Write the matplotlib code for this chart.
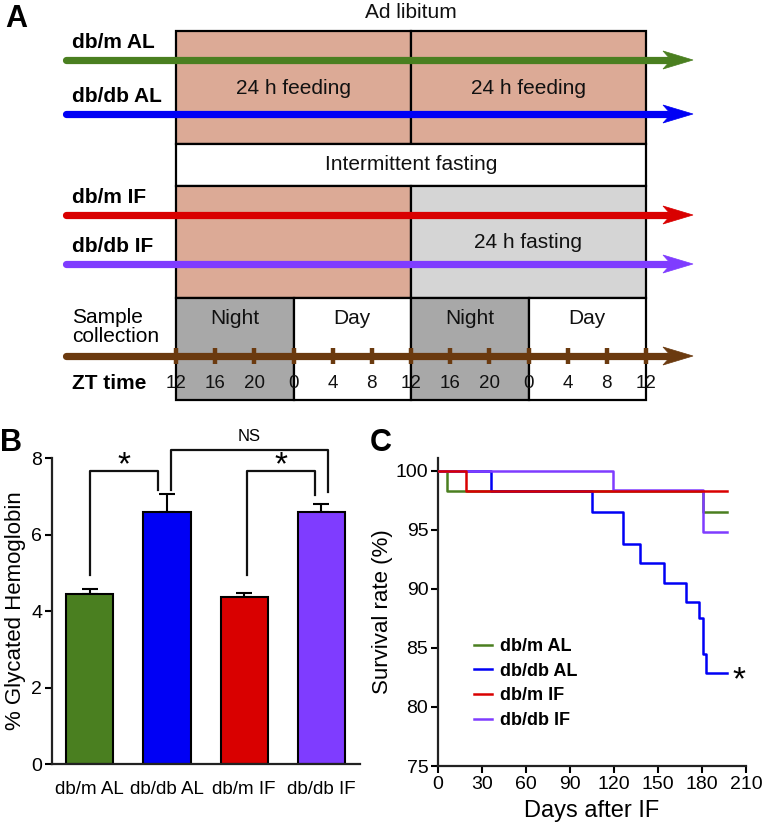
import matplotlib
matplotlib.use('Agg')
import matplotlib.pyplot as plt
from matplotlib.patches import Rectangle, Polygon

plt.rcParams['font.family'] = ['Liberation Sans', 'DejaVu Sans']

# ---- data ----
groups = ['db/m AL', 'db/db AL', 'db/m IF', 'db/db IF']
group_colors = ['#4a7f20', '#0000f5', '#d90000', '#7f3cff']

# panel A: ZT clock, every 4 h over two days
zt_labels = [12, 16, 20, 0, 4, 8, 12, 16, 20, 0, 4, 8, 12]

# panel B: glycated hemoglobin (%)
hba1c_mean = [4.44, 6.59, 4.37, 6.59]
hba1c_sem = [0.13, 0.47, 0.10, 0.21]

# panel C: survival curves (step points)
days_dm_al = [0, 6, 181, 197]
surv_dm_al = [100, 98.3, 96.5, 96.5]
days_db_al = [0, 36, 105, 126, 137.5, 154, 169, 178, 180.5, 183, 197]
surv_db_al = [100, 98.3, 96.5, 93.8, 92.2, 90.5, 88.9, 87.5, 84.5, 82.9, 82.9]
days_dm_if = [0, 19, 197]
surv_dm_if = [100, 98.3, 98.3]
days_db_if = [0, 119, 181, 197]
surv_db_if = [100, 98.4, 94.8, 94.8]

W, H = 762, 830
fig = plt.figure(figsize=(W / 100, H / 100), dpi=100)

# ---- panel A: schematic, drawn in pixel coordinates ----
axA = fig.add_axes([0, 0, 1, 1])
axA.set_xlim(0, W)
axA.set_ylim(H, 0)
axA.axis('off')

x0, x1 = 176, 646
def hx(h):
    # hours since first ZT12 -> pixel x
    return x0 + h * (x1 - x0) / 48.0

salmon = '#dcaa96'
light_gray = '#d5d5d5'
dark_gray = '#a8a8a8'
brown = '#6b3a0f'
bw = 1.6

def box(xa, xb, ya, yb, fc):
    axA.add_patch(Rectangle((xa, ya), xb - xa, yb - ya, facecolor=fc,
                            edgecolor='black', lw=bw, zorder=1))

# ad libitum rows
box(hx(0), hx(24), 31, 144, salmon)
box(hx(24), hx(48), 31, 144, salmon)
# intermittent fasting header + rows
box(hx(0), hx(48), 144, 186, 'white')
box(hx(0), hx(24), 186, 298, salmon)
box(hx(24), hx(48), 186, 298, light_gray)
# night / day
for k, fc in enumerate([dark_gray, 'white', dark_gray, 'white']):
    box(hx(12 * k), hx(12 * (k + 1)), 298, 400, fc)

tkw = dict(fontsize=15, ha='center', va='center', color='#111111')
axA.text(hx(24), 12, 'Ad libitum', **tkw)
axA.text(hx(12), 88, '24 h feeding', **tkw)
axA.text(hx(36), 88, '24 h feeding', **tkw)
axA.text(hx(24), 165, 'Intermittent fasting', **tkw)
axA.text(hx(36), 242, '24 h fasting', **tkw)
for k, lab in enumerate(['Night', 'Day', 'Night', 'Day']):
    axA.text(hx(12 * k + 6), 318, lab, **tkw)

def arrow(y, color, lw=5.2):
    xs, xe = 66, 693
    hl, hw = 30, 9
    axA.plot([xs, xe - hl + 4], [y, y], color=color, lw=lw,
             solid_capstyle='round', zorder=3)
    axA.add_patch(Polygon([[xe - hl, y - hw], [xe, y], [xe - hl, y + hw],
                           [xe - hl + 8, y]], closed=True, facecolor=color,
                          edgecolor=color, lw=0.5, zorder=3))

arrow_rows = [60, 114, 215, 264]
label_rows = [42, 96, 197, 246]
for g, c, ya, yl in zip(groups, group_colors, arrow_rows, label_rows):
    arrow(ya, c)
    axA.text(72, yl, g, fontsize=15, fontweight='bold', ha='left', va='center')

arrow(356, brown)
for i, z in enumerate(zt_labels):
    x = hx(4 * i)
    axA.plot([x, x], [348, 364], color=brown, lw=3.2, solid_capstyle='butt', zorder=4)
    axA.text(x, 383, str(z), fontsize=13.5, ha='center', va='center', color='#111111')

axA.text(72, 327, 'Sample\ncollection', fontsize=15, ha='left', va='center',
         linespacing=1.05)
axA.text(72, 383, 'ZT time', fontsize=15, fontweight='bold', ha='left', va='center')

axA.text(5, 19, 'A', fontsize=22, fontweight='bold', ha='left', va='center')
axA.text(0, 443, 'B', fontsize=22, fontweight='bold', ha='left', va='center')
axA.text(370, 443, 'C', fontsize=22, fontweight='bold', ha='left', va='center')

# ---- panel B: bar chart ----
axB = fig.add_axes([52 / W, 66 / H, 308 / W, 306 / H])
xpos = list(range(len(groups)))
axB.bar(xpos, hba1c_mean, width=0.61, color=group_colors, edgecolor='black',
        lw=1.5, zorder=2)
axB.errorbar(xpos, hba1c_mean, yerr=[[0] * 4, hba1c_sem], fmt='none',
             ecolor='black', elinewidth=1.5, capsize=6, capthick=1.5, zorder=1)
axB.set_xlim(-0.49, 3.5)
axB.set_ylim(0, 8)
axB.set_yticks([0, 2, 4, 6, 8])
axB.set_xticks(xpos)
axB.set_xticklabels(groups, fontsize=13.5)
axB.tick_params(axis='x', length=0, pad=12)
axB.tick_params(axis='y', labelsize=14, width=1.5, length=5, pad=2)
for s in ['top', 'right']:
    axB.spines[s].set_visible(False)
for s in ['left', 'bottom']:
    axB.spines[s].set_linewidth(1.6)
    axB.spines[s].set_color('#222222')
axB.set_ylabel('% Glycated Hemoglobin', fontsize=16, labelpad=4)

def bracket(xl, xr, yl, yr, ytop, label, ly, fs):
    axB.plot([xl, xl, xr, xr], [yl, ytop, ytop, yr], color='#111111', lw=1.6,
             clip_on=False)
    axB.text((xl + xr) / 2, ly, label, ha='center', va='center', fontsize=fs,
             clip_on=False)

bracket(0, 0.88, 4.94, 7.16, 7.66, '*', 7.8, 24)
bracket(2.03, 2.92, 4.94, 7.03, 7.66, '*', 7.8, 24)
bracket(1.05, 3.08, 7.16, 7.1, 8.2, 'NS', 8.55, 12)

# ---- panel C: survival ----
axC = fig.add_axes([438 / W, 64 / H, 308 / W, 308 / H])
curves = [(days_dm_al, surv_dm_al), (days_db_al, surv_db_al),
          (days_dm_if, surv_dm_if), (days_db_if, surv_db_if)]
order = [0, 1, 3, 2]
for i in order:
    d, s = curves[i]
    axC.step(d, s, where='post', color=group_colors[i], lw=1.8,
             label=groups[i], zorder=2 + order.index(i))
axC.set_xlim(0, 210)
axC.set_ylim(75, 101.1)
axC.set_xticks(range(0, 211, 30))
axC.set_yticks([75, 80, 85, 90, 95, 100])
axC.tick_params(labelsize=14, width=1.5, length=5, pad=2)
for s in ['top', 'right']:
    axC.spines[s].set_visible(False)
for s in ['left', 'bottom']:
    axC.spines[s].set_linewidth(1.6)
    axC.spines[s].set_color('#222222')
axC.set_xlabel('Days after IF', fontsize=17, labelpad=5)
axC.set_ylabel('Survival rate (%)', fontsize=16, labelpad=2)
axC.text(205.5, 82.2, '*', fontsize=24, ha='center', va='center')

handles, labels = axC.get_legend_handles_labels()
hmap = dict(zip(labels, handles))
leg = axC.legend([hmap[g] for g in groups], groups, loc='upper left',
                 bbox_to_anchor=(0.065, 0.468), frameon=False, handlelength=1.0,
                 handletextpad=0.45, labelspacing=0.42,
                 prop={'size': 13, 'weight': 'bold'})

fig.savefig('out.png', dpi=100)
